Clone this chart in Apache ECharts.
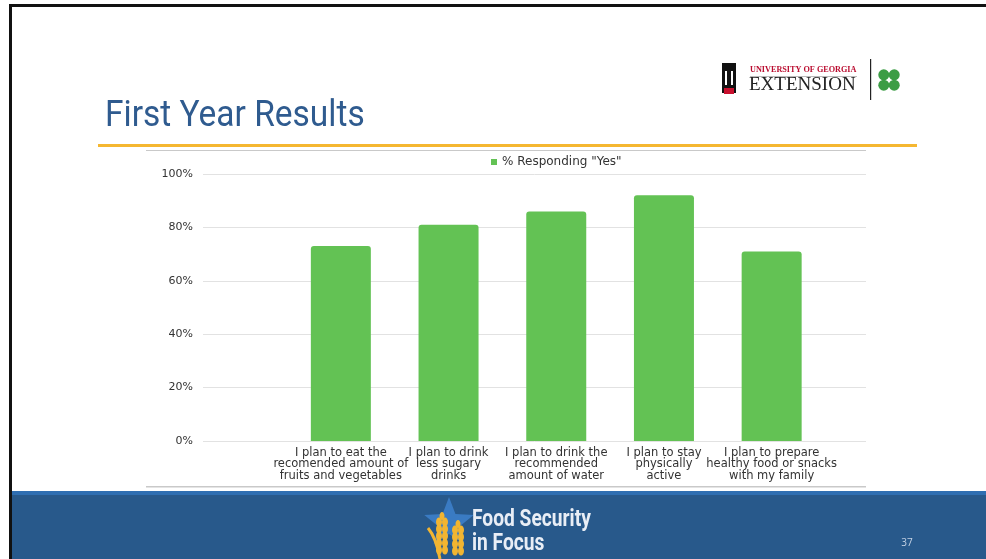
<!DOCTYPE html>
<html>
<head>
<meta charset="utf-8">
<script src="https://cdn.jsdelivr.net/npm/echarts@6/dist/echarts.min.js"></script>
<style>
html,body{margin:0;padding:0;background:#fff;}
#chart{width:986px;height:559px;}
</style>
</head>
<body>
<div id="chart"></div>
<script>
const categories = [
  'I plan to eat the\nrecomended amount of\nfruits and vegetables',
  'I plan to drink\nless sugary\ndrinks',
  'I plan to drink the\nrecommended\namount of water',
  'I plan to stay\nphysically\nactive',
  'I plan to prepare\nhealthy food or snacks\nwith my family'
];
const seriesName = '% Responding "Yes"';
const yesValues = [73, 81, 86, 92, 71];
const yMax = 100;
const yInterval = 20;

const chart = echarts.init(document.getElementById('chart'), null, {renderer: 'canvas'});
const font = '"DejaVu Sans", "Open Sans", sans-serif';

function clover(cx, cy, r) {
  const offs = [[-1,-1],[1,-1],[-1,1],[1,1]];
  return offs.map(o => ({
    type: 'circle', shape: {cx: cx + o[0]*r*0.95, cy: cy + o[1]*r*0.95, r: r},
    style: {fill: '#3c9d45'}
  }));
}
function star(cx, cy, R, r) {
  const pts = [];
  for (let i = 0; i < 10; i++) {
    const a = -Math.PI/2 + i*Math.PI/5;
    const rad = i % 2 === 0 ? R : r;
    pts.push([cx + rad*Math.cos(a), cy + rad*Math.sin(a)]);
  }
  return pts;
}
function wheat(x, y0, n) {
  const out = [];
  for (let i = 0; i < n; i++) {
    out.push({type: 'ellipse', shape: {cx: x-3, cy: y0 + i*7, rx: 3, ry: 4.5}, style: {fill: '#f2b531'}});
    out.push({type: 'ellipse', shape: {cx: x+3, cy: y0 + i*7, rx: 3, ry: 4.5}, style: {fill: '#f2b531'}});
  }
  out.push({type: 'ellipse', shape: {cx: x, cy: y0 - 6, rx: 2.5, ry: 4}, style: {fill: '#f2b531'}});
  return out;
}

const graphics = [
  // slide border
  {type: 'rect', shape: {x: 9, y: 4, width: 977, height: 3}, style: {fill: '#111'}},
  {type: 'rect', shape: {x: 9, y: 4, width: 3, height: 555}, style: {fill: '#111'}},
  // title
  {type: 'text', x: 105, y: 99, scaleX: 0.93, style: {text: 'First Year Results', font: '36px Roboto, "Open Sans", sans-serif', fill: '#2f5b8f', textVerticalAlign: 'top'}},
  // orange rule
  {type: 'rect', shape: {x: 98, y: 144, width: 819, height: 3}, style: {fill: '#f5b731'}},
  // chart box lines
  {type: 'rect', shape: {x: 146, y: 150, width: 720, height: 1}, style: {fill: '#c9c9c9'}},
  {type: 'rect', shape: {x: 146, y: 486, width: 720, height: 1.5}, style: {fill: '#c9c9c9'}},
  // UGA logo
  {type: 'rect', shape: {x: 722, y: 63, width: 14, height: 30}, style: {fill: '#111'}},
  {type: 'rect', shape: {x: 724, y: 88, width: 10, height: 6}, style: {fill: '#c8102e'}},
  {type: 'rect', shape: {x: 725, y: 71, width: 2, height: 14}, style: {fill: '#fff'}},
  {type: 'rect', shape: {x: 731, y: 71, width: 2, height: 14}, style: {fill: '#fff'}},
  {type: 'text', x: 750, y: 66, style: {text: 'UNIVERSITY OF GEORGIA', font: 'bold 8.2px "Liberation Serif", serif', fill: '#ba0c2f'}},
  {type: 'rect', shape: {x: 750, y: 76, width: 107, height: 1}, style: {fill: '#bbb'}},
  {type: 'text', x: 749, y: 76, style: {text: 'EXTENSION', font: '19px "Liberation Serif", serif', fill: '#222'}},
  {type: 'rect', shape: {x: 870, y: 59, width: 1.2, height: 41}, style: {fill: '#222'}}
].concat(clover(889, 80, 5.5)).concat([
  // footer
  {type: 'rect', shape: {x: 12, y: 491, width: 974, height: 68}, style: {fill: '#28598b'}},
  {type: 'rect', shape: {x: 12, y: 491, width: 974, height: 4}, style: {fill: '#2f6eb1'}},
  {type: 'polygon', shape: {points: star(449, 523, 26, 11)}, style: {fill: '#3a7bc3'}},
  {type: 'bezierCurve', shape: {x1: 428, y1: 528, x2: 440, y2: 559, cpx1: 434, cpy1: 535, cpx2: 438, cpy2: 548}, style: {stroke: '#f2b531', lineWidth: 3, fill: null}}
]).concat(wheat(442, 522, 5)).concat(wheat(458, 530, 4)).concat([
  {type: 'text', x: 472, y: 508, scaleX: 0.8, style: {text: 'Food Security', font: 'bold 24px Roboto, sans-serif', fill: '#e9eef6'}},
  {type: 'text', x: 472, y: 532, scaleX: 0.8, style: {text: 'in Focus', font: 'bold 24px Roboto, sans-serif', fill: '#e9eef6'}},
  {type: 'text', x: 907, y: 543, style: {text: '37', font: '10px "Open Sans", sans-serif', fill: '#c6d3e5', textAlign: 'center', textVerticalAlign: 'middle'}}
]);

const option = {
  backgroundColor: '#fff',
  animation: false,
  legend: {
    data: [seriesName],
    left: 486, top: 151,
    icon: 'rect', itemWidth: 6, itemHeight: 6, itemGap: 5,
    textStyle: {fontFamily: font, fontSize: 12, color: '#333'}
  },
  grid: [
    {left: 203, right: 120, top: 174, bottom: 118},
    {left: 287, right: 160.5, top: 174, bottom: 118}
  ],
  xAxis: [
    {gridIndex: 0, type: 'value', show: false, min: 0, max: 1},
    {gridIndex: 1, type: 'category', data: categories,
     axisLine: {show: false}, axisTick: {show: false},
     axisLabel: {interval: 0, margin: 6, fontFamily: font, fontSize: 11.5, lineHeight: 11.5, color: '#333'}}
  ],
  yAxis: [
    {gridIndex: 0, type: 'value', min: 0, max: yMax, interval: yInterval,
     axisLine: {show: false}, axisTick: {show: false},
     axisLabel: {formatter: '{value}%', margin: 10, fontFamily: font, fontSize: 11, color: '#333'},
     splitLine: {lineStyle: {color: '#e2e2e2', width: 1}}},
    {gridIndex: 1, type: 'value', min: 0, max: yMax, show: false, splitLine: {show: false}}
  ],
  series: [{
    name: seriesName, type: 'bar', xAxisIndex: 1, yAxisIndex: 1,
    data: yesValues, barWidth: 60,
    itemStyle: {color: '#63c254', borderRadius: [3, 3, 0, 0]}
  }],
  graphic: graphics
};
chart.setOption(option);
</script>
</body>
</html>
